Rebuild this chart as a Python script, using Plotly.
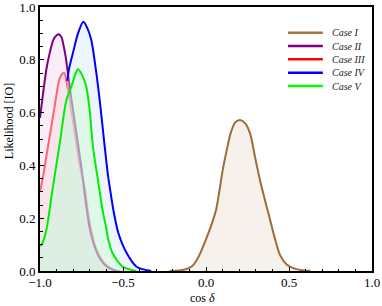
import plotly.graph_objects as go

# ---- data ----
case1_x = [-0.22, -0.15, -0.10, -0.076, -0.04, 0.0, 0.03, 0.06, 0.08, 0.10, 0.125, 0.15, 0.175, 0.205,
           0.235, 0.265, 0.295, 0.325, 0.355, 0.381, 0.41, 0.446, 0.486, 0.53, 0.58, 0.63]
case1_y = [0.0, 0.003, 0.012, 0.023, 0.06, 0.12, 0.17, 0.23, 0.30, 0.38, 0.458, 0.525, 0.562, 0.572,
           0.56, 0.522, 0.433, 0.345, 0.269, 0.206, 0.135, 0.06, 0.025, 0.01, 0.003, 0.0]

case2_x = [-1.0, -0.98, -0.96, -0.94, -0.92, -0.90, -0.887, -0.87, -0.86, -0.845, -0.83, -0.81,
           -0.78, -0.75, -0.74, -0.72, -0.70, -0.68, -0.65, -0.62, -0.58, -0.54]
case2_y = [0.58, 0.68, 0.77, 0.83, 0.875, 0.893, 0.897, 0.885, 0.86, 0.81, 0.74, 0.648,
           0.52, 0.39, 0.34, 0.24, 0.16, 0.11, 0.06, 0.03, 0.01, 0.0]

case3_x = [-1.0, -0.982, -0.952, -0.91, -0.881, -0.855, -0.835, -0.815, -0.79, -0.76, -0.73,
           -0.71, -0.69, -0.67, -0.64, -0.60, -0.56, -0.52]
case3_y = [0.30, 0.357, 0.471, 0.63, 0.73, 0.751, 0.70, 0.62, 0.52, 0.40, 0.31,
           0.22, 0.15, 0.10, 0.055, 0.022, 0.006, 0.0]

case4_x = [-0.835, -0.827, -0.80, -0.771, -0.739, -0.715, -0.691, -0.665, -0.64, -0.61, -0.59,
           -0.578, -0.558, -0.528, -0.478, -0.418, -0.357, -0.33]
case4_y = [0.72, 0.76, 0.83, 0.90, 0.944, 0.92, 0.875, 0.77, 0.645, 0.47, 0.36,
           0.31, 0.231, 0.144, 0.068, 0.016, 0.003, 0.0]

case5_x = [-1.0, -0.99, -0.962, -0.925, -0.881, -0.841, -0.811, -0.785, -0.771, -0.745, -0.721,
           -0.701, -0.681, -0.651, -0.62, -0.60, -0.589, -0.565, -0.538, -0.50, -0.458, -0.42]
case5_y = [0.095, 0.10, 0.155, 0.307, 0.484, 0.648, 0.698, 0.75, 0.764, 0.74, 0.698,
           0.61, 0.471, 0.345, 0.22, 0.16, 0.12, 0.07, 0.042, 0.015, 0.006, 0.0]

x_ticks = [-1.0, -0.5, 0.0, 0.5, 1.0]
x_tick_text = ["\u22121.0", "\u22120.5", "0.0", "0.5", "1.0"]
y_ticks = [0.0, 0.2, 0.4, 0.6, 0.8, 1.0]
y_tick_text = ["0.0", "0.2", "0.4", "0.6", "0.8", "1.0"]

legend_names = ["Case I", "Case II", "Case III", "Case IV", "Case V"]
line_colors = ["#9E6B3A", "#800080", "#FF6470", "#0000FF", "#00EE00"]
legend_colors = ["#A67346", "#800080", "#FF0000", "#0000FF", "#00FF00"]
fill_colors = ["rgba(200,170,130,0.16)", "rgba(230,200,230,0.30)", "rgba(255,205,215,0.30)",
               "rgba(210,225,255,0.35)", "rgba(200,255,200,0.40)"]

xs = [case1_x, case2_x, case3_x, case4_x, case5_x]
ys = [case1_y, case2_y, case3_y, case4_y, case5_y]

# Case IV's shaded area continues under the Case V curve on the left (its line is hidden there)
fill_xs = list(xs)
fill_ys = list(ys)
left_part = [(x, y) for x, y in zip(case5_x, case5_y) if x < case4_x[0]]
fill_xs[3] = [p[0] for p in left_part] + case4_x
fill_ys[3] = [p[1] for p in left_part] + case4_y

fig = go.Figure()

def add_fill(i):
    fig.add_trace(go.Scatter(x=fill_xs[i], y=fill_ys[i], mode="lines", line=dict(width=0, shape="spline"),
                             fill="tozeroy", fillcolor=fill_colors[i], hoverinfo="skip",
                             showlegend=False))

def add_line(i):
    fig.add_trace(go.Scatter(x=xs[i], y=ys[i], mode="lines",
                             line=dict(color=line_colors[i], width=2, shape="spline", smoothing=0.8),
                             name=legend_names[i], showlegend=False))

add_fill(1)
add_fill(2)
add_line(2)
add_line(1)
add_fill(3)
add_fill(4)
add_line(3)
add_line(4)
add_fill(0)
add_line(0)

# manual legend (paper coordinates)
leg_y0 = 0.9027
leg_dy = 0.0505
for k, nm in enumerate(legend_names):
    yy = leg_y0 - k * leg_dy
    fig.add_shape(type="line", xref="paper", yref="paper", x0=0.747, x1=0.852,
                  y0=yy, y1=yy, line=dict(color=legend_colors[k], width=2.5))
    fig.add_annotation(xref="paper", yref="paper", x=0.872, y=yy, text="<i>" + nm + "</i>",
                       showarrow=False, xanchor="left", yanchor="middle",
                       font=dict(family="Liberation Serif", size=10, color="#222"))

axis_font = dict(family="Liberation Serif", size=13, color="black")
title_font = dict(family="Liberation Serif", size=12, color="black")

# axis titles as annotations
fig.add_annotation(xref="paper", yref="paper", x=0.49, y=-0.103, text="cos <i>δ</i>",
                   showarrow=False, xanchor="center", yanchor="middle", font=title_font)
fig.add_annotation(xref="paper", yref="paper", x=-0.093, y=0.568, text="Likelihood [IO]",
                   showarrow=False, xanchor="center", yanchor="middle", textangle=-90, font=title_font)

fig.update_layout(
    width=382, height=306,
    margin=dict(l=40, r=10, t=7, b=35),
    paper_bgcolor="white", plot_bgcolor="white",
    font=axis_font,
    showlegend=False,
    xaxis=dict(range=[-1, 1], tickvals=x_ticks, ticktext=x_tick_text,
               ticks="inside", ticklen=4, tickwidth=1, tickcolor="black",
               minor=dict(dtick=0.1, ticks="inside", ticklen=2.5, tickcolor="black"),
               showline=True, linecolor="black", linewidth=2, mirror=True,
               showgrid=False, zeroline=False, tickfont=axis_font, automargin=False,
               ticklabelstandoff=-2, ticklabeloverflow="allow"),
    yaxis=dict(range=[0, 1], tickvals=y_ticks, ticktext=y_tick_text,
               ticks="inside", ticklen=4, tickwidth=1, tickcolor="black",
               minor=dict(dtick=0.05, ticks="inside", ticklen=2.5, tickcolor="black"),
               showline=True, linecolor="black", linewidth=2, mirror=True,
               showgrid=False, zeroline=False, tickfont=axis_font, automargin=False,
               ticklabeloverflow="allow"),
)

fig.write_html("out.html", config={"displayModeBar": False},
               post_script="document.body.style.margin='0';document.body.style.overflow='hidden';")
